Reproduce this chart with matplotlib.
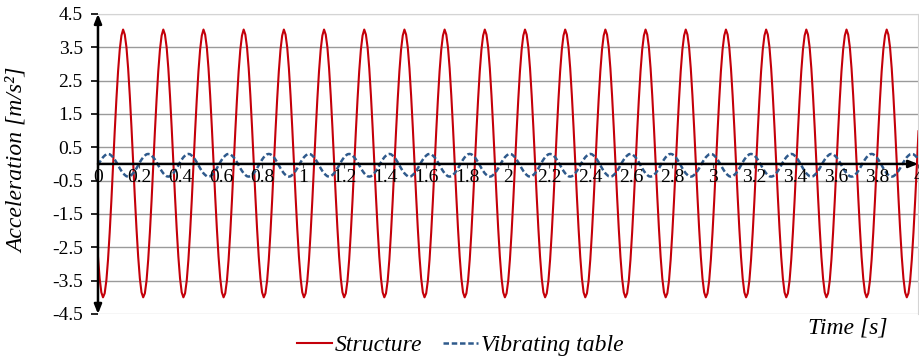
import numpy as np
import matplotlib
matplotlib.use("Agg")
import matplotlib.pyplot as plt

# one period (T = 0.196 s) of each signal, 24 samples per period
period = 0.196
structure_cycle = [-2.78, -3.43, -3.85, -4.00, -3.88, -3.50, -2.87, -2.05,
                   -1.10, -0.06, 0.98, 1.94, 2.78, 3.43, 3.85, 4.03,
                   3.88, 3.50, 2.87, 2.05, 1.10, 0.06, -0.98, -1.94]
table_cycle = [-0.04, 0.05, 0.13, 0.20, 0.25, 0.29, 0.30, 0.29,
               0.25, 0.20, 0.13, 0.05, -0.04, -0.13, -0.21, -0.28,
               -0.33, -0.37, -0.38, -0.37, -0.33, -0.28, -0.21, -0.13]
n_samples = 491

y_ticks = [-4.5, -3.5, -2.5, -1.5, -0.5, 0.5, 1.5, 2.5, 3.5, 4.5]
x_ticks = [0, 0.2, 0.4, 0.6, 0.8, 1, 1.2, 1.4, 1.6, 1.8, 2, 2.2, 2.4, 2.6, 2.8,
           3, 3.2, 3.4, 3.6, 3.8, 4]
x_labels = ["0", "0.2", "0.4", "0.6", "0.8", "1", "1.2", "1.4", "1.6", "1.8", "2",
            "2.2", "2.4", "2.6", "2.8", "3", "3.2", "3.4", "3.6", "3.8", "4"]

reps = n_samples // len(structure_cycle) + 1
structure = np.tile(structure_cycle, reps)[:n_samples]
table = np.tile(table_cycle, reps)[:n_samples]
time = np.arange(n_samples) * period / len(structure_cycle)

plt.rcParams["font.family"] = ["Liberation Serif", "DejaVu Serif"]

fig = plt.figure(figsize=(9.2, 3.56), dpi=100)
ax = fig.add_axes([0.1065, 0.118, 0.8915, 0.843])

ax.plot(time, structure, color="#C4000A", lw=1.5, label="Structure", zorder=3)
ax.plot(time, table, color="#2F5A8C", lw=1.8, ls=(0, (2.2, 1.1)),
        label="Vibrating table", zorder=3)

ax.set_xlim(0, 4)
ax.set_ylim(-4.5, 4.5)
ax.set_yticks(y_ticks)
ax.set_yticklabels([f"{v:g}" for v in y_ticks])
ax.set_xticks(x_ticks)
ax.set_xticklabels(x_labels)

ax.grid(axis="y", color="#9a9a9a", lw=1.0)
ax.grid(axis="x", visible=False)
gl = ax.yaxis.get_gridlines()
gl[0].set_color("#d4d4d4")
gl[-1].set_color("#d4d4d4")
ax.yaxis.set_zorder(1)
ax.xaxis.set_zorder(5)

ax.spines["top"].set_color("#d4d4d4")
ax.spines["right"].set_color("#d4d4d4")
ax.spines["left"].set_visible(False)
ax.spines["bottom"].set_position(("data", 0))
ax.spines["bottom"].set_visible(False)

ax.tick_params(axis="y", direction="out", length=5, width=1.2, color="black",
               pad=6, labelsize=14)
ax.tick_params(axis="x", direction="out", length=3, width=0.8, color="#555555",
               pad=1, labelsize=14)

# axes lines with arrowheads
ax.annotate("", xy=(0, 4.5), xytext=(0, -4.5), annotation_clip=False,
            arrowprops=dict(arrowstyle="<|-|>,head_length=0.55,head_width=0.22",
                            color="black", lw=1.8, shrinkA=0, shrinkB=0), zorder=6)
ax.annotate("", xy=(4.0, 0), xytext=(0, 0), annotation_clip=False,
            arrowprops=dict(arrowstyle="-|>,head_length=0.55,head_width=0.22",
                            color="black", lw=1.8, shrinkA=0, shrinkB=0), zorder=6)

fig.text(0.019, 0.55, "Acceleration [m/s²]", rotation=90, ha="center", va="center",
         fontsize=17, style="italic")
fig.text(0.921, 0.079, "Time [s]", ha="center", va="center", fontsize=17, style="italic")

fig.legend(loc="lower center", bbox_to_anchor=(0.5, -0.06), ncol=2, frameon=False,
           prop={"style": "italic", "size": 17}, handlelength=1.5,
           columnspacing=0.9, handletextpad=0.1)

fig.savefig("out.png", dpi=100)
